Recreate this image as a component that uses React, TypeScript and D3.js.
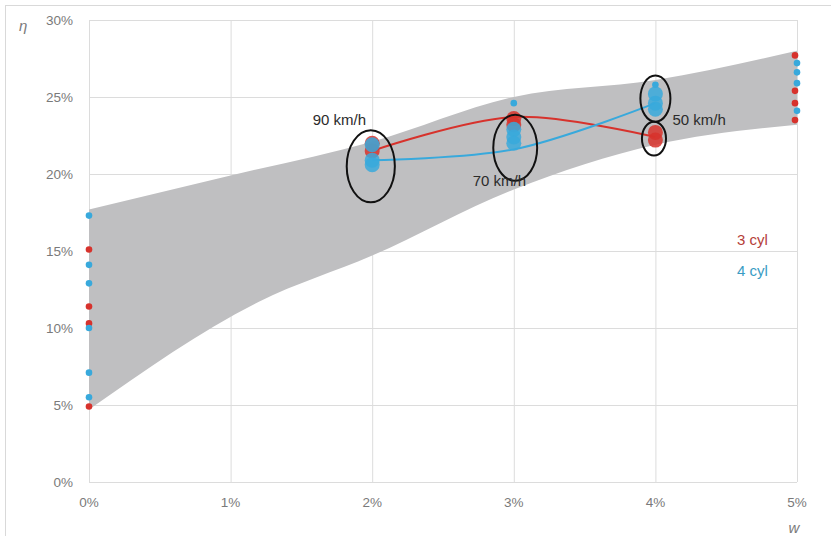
import React from "react";
import * as d3 from "d3";

// Efficiency band (η in %) against slope w (in %)
const bandUpperW = [0, 1, 2, 3, 4, 5];
const bandUpperEta = [17.7, 19.9, 22.1, 25.0, 26.1, 28.0];
const bandLowerW = [0, 1.2, 2, 3, 4, 5];
const bandLowerEta = [4.7, 11.7, 14.7, 19.0, 21.9, 23.2];

// Individual measurements at the ends of the range (small markers)
const cyl3EdgeW = [0, 0, 0, 0, 5, 5, 5, 5];
const cyl3EdgeEta = [15.1, 11.4, 10.3, 4.9, 27.7, 25.4, 24.6, 23.5];
const cyl4EdgeW = [0, 0, 0, 0, 0, 0, 5, 5, 5, 5, 3, 4];
const cyl4EdgeEta = [17.3, 14.1, 12.9, 10.0, 7.1, 5.5, 27.2, 26.6, 25.9, 24.1, 24.6, 25.8];

// Measurements at constant speed (large markers)
const cyl3SpeedW = [2, 2, 3, 3, 4, 4];
const cyl3SpeedEta = [22.0, 21.5, 23.6, 23.2, 22.7, 22.2];
const cyl4SpeedW = [2, 2, 2, 3, 3, 3, 4, 4, 4];
const cyl4SpeedEta = [21.9, 20.9, 20.6, 22.9, 22.4, 22.0, 25.2, 24.6, 24.2];

// Trend lines through the speed groups
const trendW = [2, 3, 4];
const cyl3Trend = [21.5, 23.7, 22.4];
const cyl4Trend = [20.9, 21.6, 24.6];

// Speed group outlines: centre (w, η) and half-extent (w, η)
const ringW = [1.99, 3.01, 4.0, 3.99];
const ringEta = [20.5, 21.7, 24.9, 22.3];
const ringRw = [0.17, 0.155, 0.106, 0.085];
const ringReta = [2.34, 2.14, 1.5, 1.1];

const speedLabels = ["90 km/h", "70 km/h", "50 km/h"];
const speedLabelW = [1.58, 2.71, 4.12];
const speedLabelEta = [23.2, 19.2, 23.2];

const xTicks = [0, 1, 2, 3, 4, 5];
const yTicks = [0, 5, 10, 15, 20, 25, 30];
const seriesNames = ["3 cyl", "4 cyl"];

const W = 831;
const H = 536;
const RED = "#d7322c";
const BLUE = "#38a9dc";
const RED_TEXT = "#b5403a";
const BLUE_TEXT = "#3a9cc4";
const GRID = "#dcdcdc";
const TICK = "#7a7a7a";
const FONT = "'Liberation Sans', Arial, sans-serif";

export default function App() {
  const x = d3.scaleLinear().domain([0, 5]).range([89, 797]);
  const y = d3.scaleLinear().domain([0, 30]).range([482, 20]);

  const upper = bandUpperW.map((w, i) => [w, bandUpperEta[i]] as [number, number]);
  const lower = bandLowerW.map((w, i) => [w, bandLowerEta[i]] as [number, number]);
  const bandLine = d3
    .line<[number, number]>()
    .x((d) => x(d[0]))
    .y((d) => y(d[1]))
    .curve(d3.curveMonotoneX);
  const upperPath = bandLine(upper) || "";
  const lowerRev = bandLine(lower.slice().reverse()) || "";
  const bandPath = upperPath + "L" + lowerRev.slice(1) + "Z";

  const trend = d3
    .line<[number, number]>()
    .x((d) => x(d[0]))
    .y((d) => y(d[1]))
    .curve(d3.curveCatmullRom.alpha(0.5));
  const redTrend = trend(trendW.map((w, i) => [w, cyl3Trend[i]])) || "";
  const blueTrend = trend(trendW.map((w, i) => [w, cyl4Trend[i]])) || "";

  const pxPerW = x(1) - x(0);
  const pxPerEta = y(0) - y(1);

  return (
    <svg
      width={W}
      height={H}
      style={{ position: "absolute", left: 0, top: 0, background: "#fff" }}
      fontFamily={FONT}
    >
      <rect x={5.5} y={5.5} width={W + 10} height={H + 10} fill="#fff" stroke="#d9d9d9" />

      {/* grid */}
      {yTicks.map((t) => (
        <line key={"gy" + t} x1={x(0)} x2={x(5)} y1={y(t) + 0.5} y2={y(t) + 0.5} stroke={GRID} />
      ))}
      {xTicks.map((t) => (
        <line key={"gx" + t} x1={x(t) + 0.5} x2={x(t) + 0.5} y1={y(30)} y2={y(0)} stroke={GRID} />
      ))}

      {/* efficiency band */}
      <path d={bandPath} fill="#bfbfc1" />

      {/* tick labels */}
      {yTicks.map((t) => (
        <text key={"ty" + t} x={73} y={y(t) + 5} textAnchor="end" fontSize={13.5} fill={TICK}>
          {t + "%"}
        </text>
      ))}
      {xTicks.map((t) => (
        <text key={"tx" + t} x={x(t)} y={507} textAnchor="middle" fontSize={13.5} fill={TICK}>
          {t + "%"}
        </text>
      ))}
      <text x={19} y={31} fontSize={15} fontStyle="italic" fill={TICK}>
        η
      </text>
      <text x={794} y={533} fontSize={15} fontStyle="italic" fill={TICK} textAnchor="middle">
        w
      </text>

      {/* trend lines */}
      <path d={redTrend} fill="none" stroke={RED} strokeWidth={2} />
      <path d={blueTrend} fill="none" stroke={BLUE} strokeWidth={2} />

      {/* speed group markers */}
      {cyl3SpeedW.map((w, i) => (
        <circle key={"r3" + i} cx={x(w)} cy={y(cyl3SpeedEta[i])} r={7.5} fill={RED} fillOpacity={0.85} />
      ))}
      {cyl4SpeedW.map((w, i) => (
        <circle key={"r4" + i} cx={x(w)} cy={y(cyl4SpeedEta[i])} r={7.5} fill={BLUE} fillOpacity={0.85} />
      ))}

      {/* end-of-range markers */}
      {cyl3EdgeW.map((w, i) => (
        <circle key={"e3" + i} cx={x(w) - (w === 5 ? 2 : 0)} cy={y(cyl3EdgeEta[i])} r={3.3} fill={RED} />
      ))}
      {cyl4EdgeW.map((w, i) => (
        <circle key={"e4" + i} cx={x(w)} cy={y(cyl4EdgeEta[i])} r={3.3} fill={BLUE} />
      ))}

      {/* speed group outlines */}
      {ringW.map((w, i) => (
        <ellipse
          key={"el" + i}
          cx={x(w)}
          cy={y(ringEta[i])}
          rx={ringRw[i] * pxPerW}
          ry={ringReta[i] * pxPerEta}
          fill="none"
          stroke="#111"
          strokeWidth={2}
        />
      ))}

      {speedLabels.map((s, i) => (
        <text key={s} x={x(speedLabelW[i])} y={y(speedLabelEta[i])} fontSize={15} fill="#2b2b2b">
          {s}
        </text>
      ))}

      {/* legend */}
      <text x={737} y={245} fontSize={15} fill={RED_TEXT}>
        {seriesNames[0]}
      </text>
      <text x={737} y={276} fontSize={15} fill={BLUE_TEXT}>
        {seriesNames[1]}
      </text>
    </svg>
  );
}
